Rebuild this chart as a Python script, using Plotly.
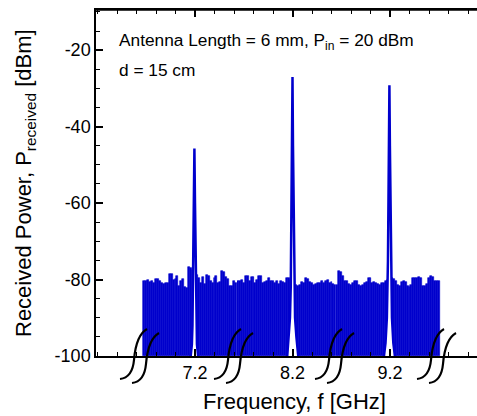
import plotly.graph_objects as go

# ---------------- data ----------------
# segment around 7.2 GHz : frequency [GHz], noise-floor envelope [dBm]
f1 = [6.94, 6.95, 6.96, 6.97, 6.98, 6.99, 7.00, 7.01, 7.02, 7.03, 7.04, 7.05,
      7.06, 7.07, 7.08, 7.09, 7.10, 7.11, 7.12, 7.13, 7.14, 7.15, 7.16, 7.17,
      7.18, 7.19, 7.20, 7.21, 7.22, 7.23, 7.24, 7.25, 7.26, 7.27, 7.28, 7.29,
      7.30, 7.31, 7.32, 7.33, 7.34, 7.35, 7.36, 7.37, 7.38, 7.39, 7.40, 7.41]
p1 = [-80.3, -80.5, -80.2, -80.6, -80.4, -81.0, -79.8, -79.9, -80.4, -81.0, -81.2, -80.8,
      -81.0, -78.5, -78.6, -80.2, -79.8, -79.1, -81.8, -80.4, -79.8, -82.0, -82.2, -76.8,
      -77.0, -77.5, -78.0, -78.7, -79.5, -81.0, -79.3, -81.2, -78.8, -79.0, -80.3, -80.8,
      -79.6, -79.0, -81.0, -80.6, -77.7, -78.0, -79.4, -79.8, -81.8, -81.6, -80.5, -80.9]

# segment around 8.2 GHz
f2 = [7.92, 7.93, 7.94, 7.95, 7.96, 7.97, 7.98, 7.99, 8.00, 8.01, 8.02, 8.03,
      8.04, 8.05, 8.06, 8.07, 8.08, 8.09, 8.10, 8.11, 8.12, 8.13, 8.14, 8.15,
      8.16, 8.17, 8.18, 8.19, 8.20, 8.21, 8.22, 8.23, 8.24, 8.25, 8.26, 8.27,
      8.28, 8.29, 8.30, 8.31, 8.32, 8.33, 8.34, 8.35, 8.36, 8.37, 8.38, 8.39,
      8.40, 8.41, 8.42]
p2 = [-80.3, -80.5, -80.0, -81.0, -79.0, -79.2, -80.5, -79.4, -79.3, -80.8, -80.0, -79.0,
      -79.2, -81.0, -80.6, -80.3, -79.5, -80.3, -80.5, -81.0, -80.5, -81.2, -80.3, -80.6,
      -81.0, -79.6, -79.6, -80.0, -80.0, -81.7, -81.5, -81.7, -81.5, -80.6, -80.8, -79.6,
      -79.8, -80.7, -80.8, -81.3, -81.1, -81.0, -80.8, -80.4, -81.0, -80.3, -80.2, -80.8,
      -80.7, -81.2, -81.3]

# segment around 9.2 GHz
f3 = [8.93, 8.94, 8.95, 8.96, 8.97, 8.98, 8.99, 9.00, 9.01, 9.02, 9.03, 9.04,
      9.05, 9.06, 9.07, 9.08, 9.09, 9.10, 9.11, 9.12, 9.13, 9.14, 9.15, 9.16,
      9.17, 9.18, 9.19, 9.20, 9.21, 9.22, 9.23, 9.24, 9.25, 9.26, 9.27, 9.28,
      9.29, 9.30, 9.31, 9.32, 9.33, 9.34, 9.35, 9.36, 9.37, 9.38, 9.39, 9.40,
      9.41, 9.42, 9.43, 9.44, 9.45]
p3 = [-81.3, -77.7, -78.0, -79.0, -80.3, -80.5, -81.2, -81.3, -80.8, -80.3, -80.5, -81.5,
      -81.6, -81.3, -80.8, -80.6, -79.6, -79.7, -80.8, -80.6, -81.0, -81.1, -81.5, -81.0,
      -81.0, -80.5, -80.0, -80.0, -79.6, -79.8, -80.5, -81.5, -81.7, -80.6, -80.4, -80.6,
      -81.8, -81.9, -81.5, -79.6, -79.7, -79.5, -79.3, -79.6, -81.7, -81.6, -81.2, -79.5,
      -79.1, -79.4, -80.4, -80.3, -80.5]

# carrier peaks (frequency [GHz], received power [dBm])
pk1_f = [7.172, 7.178, 7.184, 7.187, 7.188, 7.191, 7.194, 7.197,
         7.200, 7.203, 7.206, 7.207, 7.210, 7.216, 7.222]
pk1_p = [-103, -100, -97, -92, -85, -75, -60, -45.7,
         -60, -75, -85, -92, -97, -100, -103]
pk2_f = [8.165, 8.173, 8.180, 8.187, 8.191, 8.1925, 8.195, 8.1975, 8.200,
         8.2025, 8.205, 8.2075, 8.209, 8.213, 8.220, 8.227, 8.235]
pk2_p = [-103, -100, -95, -90, -82, -75, -60, -45, -27,
         -45, -60, -75, -82, -90, -95, -100, -103]
pk3_f = [9.162, 9.170, 9.177, 9.184, 9.188, 9.1895, 9.192, 9.1945, 9.197,
         9.1995, 9.202, 9.2045, 9.206, 9.210, 9.217, 9.224, 9.232]
pk3_p = [-103, -100, -96.6, -90, -81.4, -75, -60, -45, -29.2,
         -45, -60, -75, -81.4, -90, -96.6, -100, -103]

x_ticks = [[7.2], [8.2], [9.2]]
x_ticklabels = [["7.2"], ["8.2"], ["9.2"]]
y_ticks = [-100, -80, -60, -40, -20]
y_ticklabels = ["-100", "-80", "-60", "-40", "-20"]

# ---------------- styling / layout constants ----------------
BLUE = "rgb(0,0,205)"
W, H = 477, 416
L, T, B = 96, 10, 60
PW, PH = W - L, H - T - B
BASE = -100
YMAX = -9.5

def px(x, y):
    """pixel -> paper coordinates (for decorations only)"""
    return (x - L) / PW, (H - B - y) / PH

fig = go.Figure()

for f, p, xa in [(f1, p1, "x"), (f2, p2, "x2"), (f3, p3, "x3")]:
    fig.add_trace(go.Bar(
        x=f, y=[v - BASE for v in p], base=BASE, width=0.01,
        marker=dict(color=BLUE, line=dict(color=BLUE, width=0.6)),
        xaxis=xa, yaxis="y", hoverinfo="skip"))

for pf, pp, xa in [(pk1_f, pk1_p, "x"), (pk2_f, pk2_p, "x2"), (pk3_f, pk3_p, "x3")]:
    fig.add_trace(go.Scatter(
        x=pf, y=pp, mode="lines", fill="toself", fillcolor="white",
        line=dict(color=BLUE, width=2.5), xaxis=xa, yaxis="y", hoverinfo="skip"))

# broken x axis: three segments with the same GHz-per-pixel scale
b1, b2 = 237, 336
scale = 195.0
doms = [[0, (b1 - L) / PW], [(b1 - L) / PW, (b2 - L) / PW], [(b2 - L) / PW, 1]]
centers_px = [195, 292.5, 390]
centers_f = [7.2, 8.2, 9.2]
bounds = [(L, b1), (b1, b2), (b2, W)]

axis_common = dict(
    showline=True, linecolor="black", linewidth=1.5, mirror="allticks",
    ticks="inside", ticklen=7, tickwidth=1.5, tickcolor="black",
    showgrid=False, zeroline=False,
    tickfont=dict(size=18, color="black"),
    minor=dict(dtick=0.1, tick0=0, ticks="inside", ticklen=4,
               tickwidth=1, tickcolor="black", showgrid=False),
    fixedrange=True)

for i in range(3):
    lo, hi = bounds[i]
    rng = [centers_f[i] - (centers_px[i] - lo) / scale,
           centers_f[i] + (hi - centers_px[i]) / scale]
    name = "xaxis" if i == 0 else "xaxis%d" % (i + 1)
    fig.layout[name] = dict(axis_common, domain=doms[i], range=rng, anchor="y",
                            tickvals=x_ticks[i], ticktext=x_ticklabels[i])

fig.update_layout(
    yaxis=dict(range=[BASE, YMAX], tickvals=y_ticks, ticktext=y_ticklabels,
               showline=True, linecolor="black", linewidth=1.5,
               ticks="inside", ticklen=7, tickwidth=1.5, tickcolor="black",
               minor=dict(dtick=5, ticks="inside", ticklen=4, tickwidth=1,
                          tickcolor="black", showgrid=False),
               showgrid=False, zeroline=False, anchor="x",
               tickfont=dict(size=18, color="black"), fixedrange=True),
    width=W, height=H,
    margin=dict(l=L, r=0, t=T, b=B, pad=0),
    plot_bgcolor="white", paper_bgcolor="white",
    showlegend=False, bargap=0, barmode="overlay",
    font=dict(family="Liberation Sans, Arial, sans-serif", color="black"),
)

# top frame line
fig.add_shape(type="line", xref="paper", yref="paper", x0=0, x1=1, y0=1, y1=1,
              line=dict(color="black", width=1.5))

# axis titles and annotations
ax_, ay_ = px(294, 401)
fig.add_annotation(text="Frequency, f [GHz]", x=ax_, y=ay_, xref="paper", yref="paper",
                   showarrow=False, font=dict(size=22), xanchor="center", yanchor="middle")
ax_, ay_ = px(25, 183)
fig.add_annotation(text="Received Power, P<sub>received</sub> [dBm]", x=ax_, y=ay_,
                   xref="paper", yref="paper", showarrow=False, textangle=-90,
                   font=dict(size=22), xanchor="center", yanchor="middle")
ax_, ay_ = px(117, 41)
fig.add_annotation(text="Antenna Length = 6 mm, P<sub>in</sub> = 20 dBm", x=ax_, y=ay_,
                   xref="paper", yref="paper", showarrow=False,
                   font=dict(size=17.3), xanchor="left", yanchor="middle")
ax_, ay_ = px(117, 70)
fig.add_annotation(text="d = 15 cm", x=ax_, y=ay_, xref="paper", yref="paper",
                   showarrow=False, font=dict(size=17.3), xanchor="left", yanchor="middle")

# axis-break marks (double integral-like curves)
S_CURVE = [(-15, 23), (-6, 22), (-2, 15), (-1, 4), (0, -8), (3, -22), (12, -27)]
for cx in [135, 229, 330, 432]:
    for dx, dy in [(0, 0), (12, 4)]:
        pts = [px(cx + dx + a, 356 + dy + b) for a, b in S_CURVE]
        path = "M {:.5f},{:.5f} C {:.5f},{:.5f} {:.5f},{:.5f} {:.5f},{:.5f} C {:.5f},{:.5f} {:.5f},{:.5f} {:.5f},{:.5f}".format(
            *[c for pt in pts for c in pt])
        fig.add_shape(type="path", path=path, xref="paper", yref="paper",
                      line=dict(color="black", width=2.2))

fig.write_html("out.html")
